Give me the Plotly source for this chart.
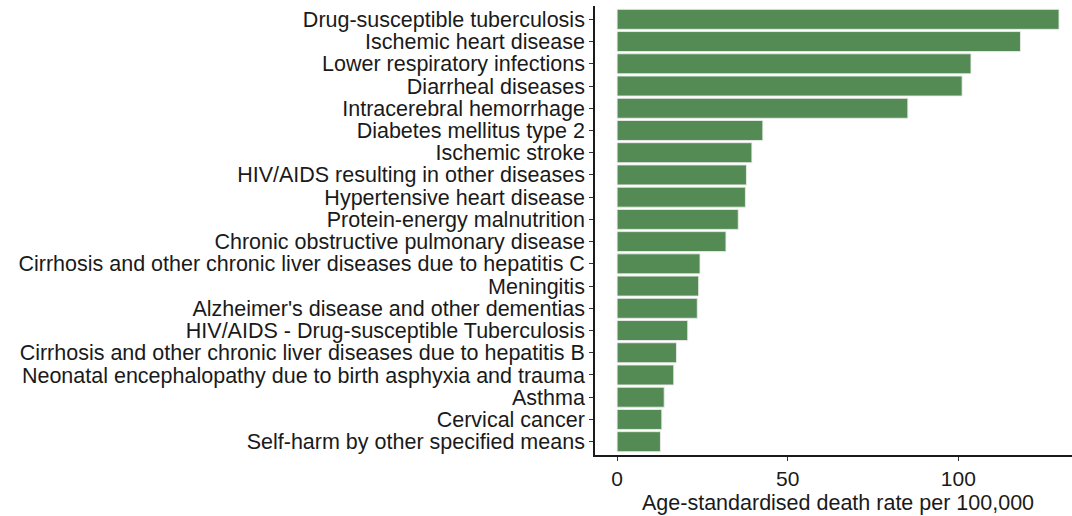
import plotly.graph_objects as go

categories = [
    "Drug-susceptible tuberculosis",
    "Ischemic heart disease",
    "Lower respiratory infections",
    "Diarrheal diseases",
    "Intracerebral hemorrhage",
    "Diabetes mellitus type 2",
    "Ischemic stroke",
    "HIV/AIDS resulting in other diseases",
    "Hypertensive heart disease",
    "Protein-energy malnutrition",
    "Chronic obstructive pulmonary disease",
    "Cirrhosis and other chronic liver diseases due to hepatitis C",
    "Meningitis",
    "Alzheimer's disease and other dementias",
    "HIV/AIDS - Drug-susceptible Tuberculosis",
    "Cirrhosis and other chronic liver diseases due to hepatitis B",
    "Neonatal encephalopathy due to birth asphyxia and trauma",
    "Asthma",
    "Cervical cancer",
    "Self-harm by other specified means",
]
death_rate = [129.5, 118.2, 103.7, 101.1, 85.2, 42.7, 39.5, 37.9, 37.6, 35.5,
              31.9, 24.3, 23.9, 23.5, 20.7, 17.4, 16.6, 13.8, 13.1, 12.7]
x_ticks = [0, 50, 100]
x_title = "Age-standardised death rate per 100,000"

FONT = "Liberation Sans, Arial, sans-serif"

fig = go.Figure(go.Bar(
    x=death_rate,
    y=categories,
    orientation="h",
    marker=dict(color="#548B54", line=dict(color="rgba(235,235,235,0.9)", width=1)),
))

xmax = max(death_rate)
fig.update_layout(
    width=1072, height=516,
    margin=dict(l=595, r=0, t=6, b=61, autoexpand=False),
    paper_bgcolor="white", plot_bgcolor="white",
    bargap=0.1,
    showlegend=False,
    font=dict(family=FONT, size=21, color="#1a1a1a"),
    xaxis=dict(
        range=[-0.05 * xmax, 133.3],
        tickmode="array", tickvals=x_ticks,
        showgrid=False, zeroline=False,
        showline=True, linecolor="#1a1a1a", linewidth=1.6,
        ticks="outside", ticklen=4, tickwidth=1.2, tickcolor="#333333",
        tickfont=dict(size=21, color="#1a1a1a"),
    ),
    yaxis=dict(
        categoryorder="array", categoryarray=categories[::-1],
        tickmode="array", tickvals=categories, ticktext=categories,
        range=[-0.6, len(categories) - 0.4],
        showgrid=False, zeroline=False,
        showline=True, linecolor="#1a1a1a", linewidth=1.6,
        ticks="outside", ticklen=4, tickwidth=1.2, tickcolor="#333333",
        tickfont=dict(size=21.5, color="#1a1a1a"),
        ticklabelstandoff=0,
    ),
    annotations=[dict(
        text=x_title, x=(-0.05 * xmax + 1.05 * xmax) / 2, xref="x",
        y=-0.076, yref="paper", yanchor="top", xanchor="center",
        showarrow=False, font=dict(family=FONT, size=21.5, color="#1a1a1a"),
    )],
)

fig.write_html("out.html", config={"displayModeBar": False},
               post_script="document.body.style.margin='0px';")
